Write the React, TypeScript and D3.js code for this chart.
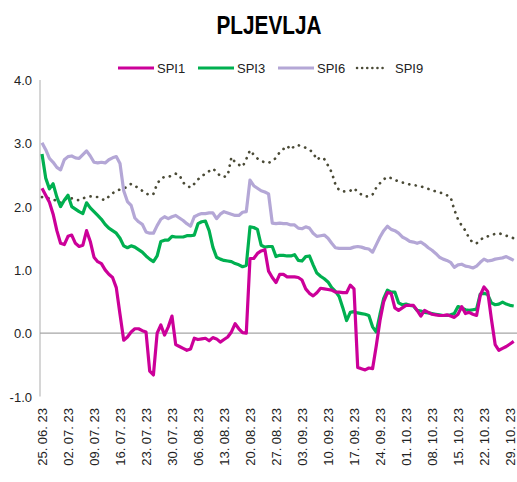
import React, { useRef, useEffect } from 'react';
import * as d3 from 'd3';

// daily values, starting 25.06.2023
const startDate = new Date(2023, 5, 25);

const spi1 = [
  2.29, 2.18, 2.07, 1.88, 1.62, 1.42, 1.40, 1.53, 1.55, 1.42,
  1.37, 1.39, 1.62, 1.45, 1.20, 1.13, 1.10, 1.00, 0.93, 0.88,
  0.72, 0.30, -0.11, -0.06, 0.02, 0.07, 0.07, 0.04, 0.02, -0.60,
  -0.66, 0.00, 0.13, -0.03, 0.10, 0.27, -0.18, -0.21, -0.24, -0.27,
  -0.25, -0.08, -0.10, -0.09, -0.08, -0.12, -0.07, -0.09, -0.14, -0.10,
  -0.06, 0.02, 0.15, 0.07, 0.01, 0.00, 1.18, 1.18, 1.26, 1.30,
  1.32, 0.98, 0.88, 0.80, 0.93, 0.93, 0.89, 0.89, 0.89, 0.88,
  0.84, 0.70, 0.63, 0.59, 0.64, 0.71, 0.70, 0.69, 0.68, 0.65,
  0.65, 0.64, 0.64, 0.76, 0.70, -0.54, -0.56, -0.58, -0.55, -0.56,
  -0.20, 0.20, 0.50, 0.64, 0.63, 0.40, 0.36, 0.40, 0.44, 0.44,
  0.44, 0.36, 0.27, 0.36, 0.33, 0.30, 0.29, 0.28, 0.28, 0.29,
  0.27, 0.25, 0.30, 0.42, 0.31, 0.33, 0.30, 0.28, 0.60, 0.73,
  0.66, 0.22, -0.18, -0.27, -0.24, -0.21, -0.17, -0.13,
];

const spi3 = [
  2.83, 2.45, 2.28, 2.36, 2.15, 2.00, 2.10, 2.18, 2.00, 1.96,
  1.92, 1.89, 2.06, 1.98, 1.92, 1.86, 1.80, 1.72, 1.66, 1.62,
  1.58, 1.50, 1.38, 1.35, 1.38, 1.36, 1.32, 1.28, 1.22, 1.17,
  1.13, 1.22, 1.45, 1.47, 1.47, 1.53, 1.52, 1.52, 1.52, 1.54,
  1.54, 1.55, 1.73, 1.76, 1.77, 1.62, 1.36, 1.20, 1.17, 1.15,
  1.14, 1.13, 1.10, 1.08, 1.05, 1.07, 1.68, 1.67, 1.64, 1.39,
  1.36, 1.37, 1.37, 1.21, 1.23, 1.23, 1.22, 1.22, 1.24, 1.15,
  1.14, 1.21, 1.22, 1.08, 0.95, 0.90, 0.86, 0.81, 0.72, 0.66,
  0.58, 0.40, 0.20, 0.33, 0.34, 0.32, 0.31, 0.30, 0.28, 0.10,
  0.02, 0.30, 0.55, 0.68, 0.65, 0.65, 0.48, 0.45, 0.46, 0.44,
  0.43, 0.36, 0.35, 0.33, 0.32, 0.31, 0.30, 0.29, 0.28, 0.28,
  0.29, 0.31, 0.42, 0.40, 0.37, 0.36, 0.37, 0.38, 0.62, 0.63,
  0.61, 0.48, 0.45, 0.46, 0.49, 0.46, 0.44, 0.43,
];

const spi6 = [
  3.01, 2.90, 2.76, 2.70, 2.62, 2.58, 2.74, 2.79, 2.80, 2.77,
  2.76, 2.82, 2.88, 2.80, 2.70, 2.69, 2.70, 2.69, 2.74, 2.77,
  2.79, 2.68, 2.25, 2.08, 2.02, 1.82, 1.76, 1.72, 1.60, 1.58,
  1.58, 1.70, 1.80, 1.84, 1.81, 1.84, 1.86, 1.82, 1.78, 1.73,
  1.69, 1.84, 1.87, 1.89, 1.89, 1.90, 1.90, 1.81, 1.88, 1.92,
  1.90, 1.88, 1.86, 1.86, 1.91, 1.92, 2.42, 2.33, 2.29, 2.25,
  2.23, 2.20, 1.74, 1.73, 1.74, 1.73, 1.73, 1.71, 1.71, 1.66,
  1.65, 1.68, 1.66, 1.58, 1.53, 1.54, 1.55, 1.50, 1.42, 1.35,
  1.34, 1.34, 1.34, 1.34, 1.36, 1.37, 1.36, 1.34, 1.33, 1.28,
  1.40, 1.52, 1.62, 1.69, 1.64, 1.62, 1.58, 1.52, 1.49, 1.45,
  1.44, 1.42, 1.44, 1.40, 1.35, 1.31, 1.26, 1.20, 1.17, 1.15,
  1.12, 1.04, 1.08, 1.09, 1.06, 1.05, 1.03, 1.06, 1.12, 1.17,
  1.14, 1.15, 1.17, 1.18, 1.19, 1.21, 1.18, 1.15,
];

const spi9 = [
  2.15, 2.14, 2.13, 2.12, 2.08, 2.06, 2.10, 2.15, 2.13, 2.11,
  2.10, 2.13, 2.15, 2.16, 2.16, 2.15, 2.12, 2.10, 2.16, 2.21,
  2.25, 2.27, 2.29, 2.31, 2.36, 2.33, 2.29, 2.25, 2.21, 2.18,
  2.20, 2.36, 2.44, 2.47, 2.47, 2.49, 2.52, 2.50, 2.38, 2.33,
  2.30, 2.36, 2.43, 2.48, 2.52, 2.56, 2.60, 2.55, 2.48, 2.47,
  2.49, 2.78, 2.70, 2.66, 2.63, 2.75, 2.89, 2.82, 2.76, 2.72,
  2.70, 2.69, 2.72, 2.77, 2.86, 2.91, 2.96, 2.90, 2.96, 2.97,
  2.95, 2.93, 2.90, 2.85, 2.74, 2.78, 2.75, 2.65, 2.54, 2.35,
  2.26, 2.24, 2.24, 2.25, 2.29, 2.23, 2.19, 2.16, 2.16, 2.19,
  2.30, 2.37, 2.43, 2.47, 2.45, 2.42, 2.40, 2.38, 2.37, 2.35,
  2.34, 2.33, 2.32, 2.30, 2.28, 2.26, 2.24, 2.22, 2.21, 2.18,
  2.15, 1.95, 1.80, 1.70, 1.62, 1.50, 1.43, 1.42, 1.47, 1.52,
  1.53, 1.55, 1.57, 1.58, 1.56, 1.54, 1.52, 1.50,
];

const tickLabels = [
  '25. 06. 23', '02. 07. 23', '09. 07. 23', '16. 07. 23', '23. 07. 23',
  '30. 07. 23', '06. 08. 23', '13. 08. 23', '20. 08. 23', '27. 08. 23',
  '03. 09. 23', '10. 09. 23', '17. 09. 23', '24. 09. 23', '01. 10. 23',
  '08. 10. 23', '15. 10. 23', '22. 10. 23', '29. 10. 23',
];

const yTicks = [-1, 0, 1, 2, 3, 4];

const series = [
  { name: 'SPI1', values: spi1, color: '#cc0099', dotted: false },
  { name: 'SPI3', values: spi3, color: '#00b050', dotted: false },
  { name: 'SPI6', values: spi6, color: '#b4a7d6', dotted: false },
  { name: 'SPI9', values: spi9, color: '#4a4a36', dotted: true },
];

const App = () => {
  const ref = useRef<SVGSVGElement>(null);

  useEffect(() => {
    const width = 517;
    const height = 482;
    const svg = d3.select(ref.current);
    svg.selectAll('*').remove();
    svg.attr('width', width).attr('height', height);

    const font = "'Liberation Sans', Arial, sans-serif";
    const day = (i: number) => d3.timeDay.offset(startDate, i);

    const x = d3.scaleTime()
      .domain([startDate, day(126)])
      .range([42, 510]);
    const y = d3.scaleLinear().domain([-1, 4]).range([396.5, 80]);

    // title
    svg.append('text')
      .attr('x', 269).attr('y', 34)
      .attr('text-anchor', 'middle')
      .attr('font-family', font)
      .attr('font-weight', 'bold')
      .attr('font-size', 25)
      .attr('textLength', 105)
      .attr('lengthAdjust', 'spacingAndGlyphs')
      .text('PLJEVLJA');

    // legend
    const legendX = [118, 198, 278, 357];
    series.forEach((s, i) => {
      const g = svg.append('g').attr('transform', `translate(${legendX[i]},68)`);
      g.append('line')
        .attr('x1', 0).attr('x2', s.dotted ? 27 : 36)
        .attr('stroke', s.color)
        .attr('stroke-width', s.dotted ? 2.5 : 3)
        .attr('stroke-linecap', s.dotted ? 'round' : 'butt')
        .attr('stroke-dasharray', s.dotted ? '0.1 5' : null);
      g.append('text')
        .attr('x', s.dotted ? 38 : 39).attr('y', 4.5)
        .attr('font-family', font)
        .attr('font-size', 13)
        .attr('fill', '#222')
        .text(s.name);
    });

    // y axis
    svg.append('line')
      .attr('x1', 40).attr('x2', 40)
      .attr('y1', y(4)).attr('y2', y(-1))
      .attr('stroke', '#c8c8c8').attr('stroke-width', 1.5);
    svg.append('line')
      .attr('x1', 40).attr('x2', width)
      .attr('y1', y(0)).attr('y2', y(0))
      .attr('stroke', '#a6a6a6').attr('stroke-width', 1.2);

    svg.selectAll('.ytick')
      .data(yTicks)
      .enter()
      .append('text')
      .attr('x', 32)
      .attr('y', (d) => y(d) + 5)
      .attr('text-anchor', 'end')
      .attr('font-family', font)
      .attr('font-size', 13)
      .attr('fill', '#222')
      .text((d) => d.toFixed(1));

    // x labels
    svg.selectAll('.xtick')
      .data(tickLabels)
      .enter()
      .append('text')
      .attr('transform', (d, i) => `translate(${x(day(i * 7)) + 4.5},408) rotate(-90)`)
      .attr('text-anchor', 'end')
      .attr('font-family', font)
      .attr('font-size', 13)
      .attr('fill', '#222')
      .text((d) => d);

    // lines
    const line = d3.line<number>()
      .x((d, i) => x(day(i)))
      .y((d) => y(d));

    series.slice().reverse().forEach((s) => {
      svg.append('path')
        .datum(s.values)
        .attr('d', line)
        .attr('fill', 'none')
        .attr('stroke', s.color)
        .attr('stroke-width', s.dotted ? 2.7 : 3.2)
        .attr('stroke-linejoin', 'round')
        .attr('stroke-linecap', s.dotted ? 'round' : 'butt')
        .attr('stroke-dasharray', s.dotted ? '0.1 6.5' : null);
    });
  }, []);

  return (
    <div style={{ position: 'fixed', left: 0, top: 0, background: '#fff' }}>
      <svg ref={ref}></svg>
    </div>
  );
};

export default App;
